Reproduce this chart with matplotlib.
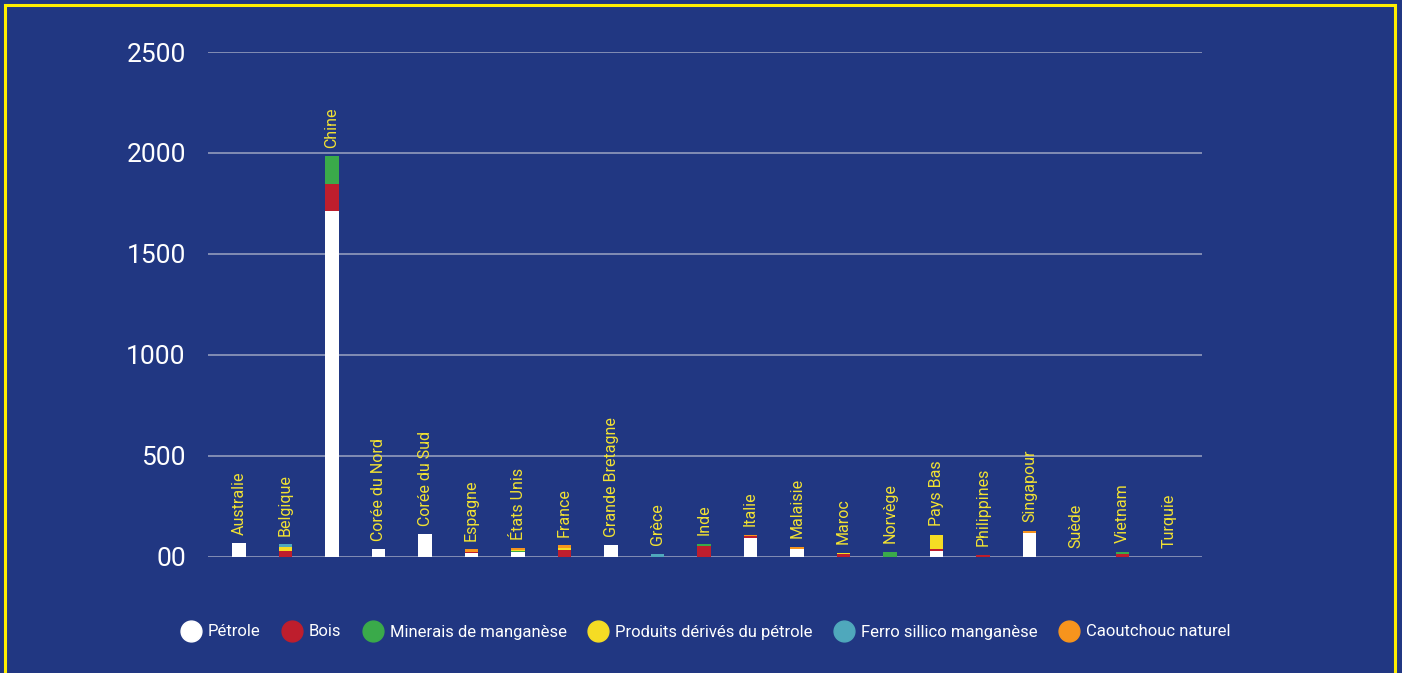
import numpy as np
import matplotlib.pyplot as plt
from matplotlib.patches import Rectangle
from matplotlib.lines import Line2D

plt.rcParams['font.family'] = ['Roboto', 'DejaVu Sans']

countries = ['Australie', 'Belgique', 'Chine', 'Corée du Nord', 'Corée du Sud', 'Espagne',
             'États Unis', 'France', 'Grande Bretagne', 'Grèce', 'Inde', 'Italie', 'Malaisie',
             'Maroc', 'Norvège', 'Pays Bas', 'Philippines', 'Singapour', 'Suède', 'Vietnam', 'Turquie']

petrole = [68, 0, 1712, 38, 113, 20, 23, 0, 58, 0, 0, 91, 40, 0, 0, 30, 0, 119, 0, 0, 0]
bois = [0, 28, 132, 0, 0, 5, 0, 33, 0, 0, 55, 10, 0, 12, 0, 10, 10, 0, 0, 15, 0]
minerais = [0, 0, 140, 0, 0, 0, 5, 0, 0, 0, 10, 0, 0, 0, 25, 0, 0, 0, 0, 10, 0]
produits = [0, 20, 0, 0, 0, 0, 7, 12, 0, 0, 0, 0, 0, 8, 0, 69, 0, 0, 0, 0, 0]
ferro = [0, 15, 0, 0, 0, 0, 0, 0, 0, 15, 0, 0, 0, 0, 0, 0, 0, 0, 0, 0, 0]
caoutchouc = [0, 0, 0, 0, 0, 13, 8, 13, 0, 0, 0, 8, 10, 0, 0, 0, 0, 10, 0, 0, 0]

series = ['Pétrole', 'Bois', 'Minerais de manganèse', 'Produits dérivés du pétrole',
          'Ferro sillico manganèse', 'Caoutchouc naturel']
colors = ['#ffffff', '#be1e2d', '#3aaa4a', '#f5dc24', '#4fa8bc', '#f7941d']

yticks = [0, 500, 1000, 1500, 2000, 2500]
ytick_labels = ['00', '500', '1000', '1500', '2000', '2500']

bg = '#213782'

fig = plt.figure(figsize=(14.02, 6.73), dpi=100, facecolor=bg)
ax = fig.add_axes([208/1402, 1 - 556.7/673, (1202-208)/1402, (556.7-52)/673])
ax.set_facecolor(bg)

x = np.arange(len(countries))
bottom = np.zeros(len(countries))
for vals, col in zip([petrole, bois, minerais, produits, ferro, caoutchouc], colors):
    ax.bar(x, vals, width=0.3, bottom=bottom, color=col, zorder=3)
    bottom += np.array(vals)

# country names above each bar
for xi, total, name in zip(x, bottom, countries):
    ax.annotate(name, (xi, total), xytext=(0, 6), textcoords='offset points',
                rotation=90, ha='center', va='bottom', color='#f2e233', fontsize=11.5)

ax.set_xlim(-0.667, 20.71)
ax.set_ylim(0, 2500)
ax.set_yticks(yticks)
ax.set_yticklabels(ytick_labels, color='white', fontsize=19)
ax.set_xticks([])
ax.tick_params(axis='y', length=0, pad=16)
ax.yaxis.grid(True, color='#8a93b8', linewidth=1.3, zorder=0)
for s in ax.spines.values():
    s.set_visible(False)

handles = [Line2D([], [], marker='o', linestyle='', markersize=15, color=c) for c in colors]
fig.legend(handles, series, loc='center', bbox_to_anchor=(704/1402, 1 - 632/673), ncol=6,
           frameon=False, labelcolor='white', fontsize=12, handletextpad=0.2,
           columnspacing=1.1, handlelength=1.6)

# yellow frame
fig.patches.append(Rectangle((5/1402, -0.1), 1390/1402, 1.1 - 5/673, transform=fig.transFigure,
                             fill=False, edgecolor='#ffee00', linewidth=2.2))

fig.savefig('out.png', dpi=100, facecolor=bg)
